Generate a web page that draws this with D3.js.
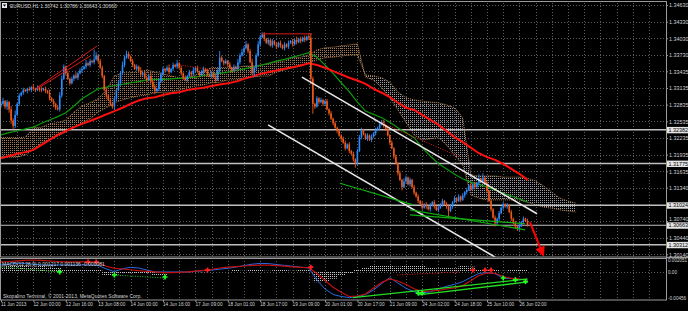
<!DOCTYPE html>
<html><head><meta charset="utf-8">
<script src="https://cdnjs.cloudflare.com/ajax/libs/d3/7.8.5/d3.min.js"></script>
<style>
html,body{margin:0;padding:0;background:#000;}
svg{display:block;}
text{font-family:"Liberation Sans",Arial,sans-serif;}
</style></head><body>
<svg id="c" width="688" height="311"></svg>
<script>
// ---------------- DATA ----------------
// H1 closes, in pips above 1.30000, from 11 Jun 2013 08:00 (bar 0) to 26 Jun 06:00 (bar 260)
const firstOpen = 282;
const closes = [
285,290,280,288,275,255,245,265,285,300,
305,310,308,312,310,315,312,310,314,311,
310,312,308,305,295,290,285,278,275,300,
330,352,340,330,322,330,336,332,340,345,
348,352,358,355,362,360,365,372,362,350,
335,310,300,292,285,280,295,310,322,340,
355,368,375,370,362,355,348,352,345,338,
340,332,328,335,325,315,308,312,325,338,
348,345,350,342,348,355,352,358,350,340,
332,328,335,342,338,345,350,343,337,342,
348,344,338,335,340,333,328,345,368,362,
358,362,356,350,345,352,348,360,372,378,
385,392,380,360,340,350,372,392,405,410,
402,395,400,390,398,392,388,395,390,385,
392,388,395,398,392,400,396,402,398,404,
400,406,404,330,285,280,295,288,292,285,
290,275,268,258,250,242,236,228,222,215,
205,212,200,195,185,178,200,225,238,230,
222,228,220,226,232,238,242,248,252,246,
240,228,215,205,190,178,160,148,135,145,
152,140,148,135,125,118,110,105,98,104,
100,95,102,108,100,94,98,104,110,104,
100,92,100,108,115,110,118,112,120,126,
130,138,132,140,135,142,150,145,152,142,
128,110,95,80,70,78,88,98,104,100,
102,90,78,70,64,60,65,72,78,74,66];
// upper / lower wick length per bar (digit x 2 pips)
const wickUp = "2312132412"+"1211213121"+"2121312123"+"3212121312"+"2131219312"+"2121212132"+"3232121213"+"1212312132"+"2123121312"+"1212131212"+"2121213262"+"1212121323"+"2312312322"+"2121212121"+"2121213121"+"2124212121"+"1212121212"+"2121212221"+"1212121222"+"1212121213"+"2121212121"+"2121212121"+"2121212121"+"2121214141"+"2121212121"+"2121212121"+"2";
const wickDn = "2123333212"+"1212121212"+"2121213212"+"2121212121"+"2121212121"+"2121223212"+"1212121212"+"2121213121"+"1212121212"+"2121212121"+"2121213121"+"2121212121"+"2121232121"+"2121212121"+"2121212121"+"2125921212"+"2121212121"+"2121242121"+"1212121212"+"2121212131"+"2121212121"+"2121212121"+"2612121212"+"2121212121"+"2121312121"+"2121222121"+"1";

// indicator lines sampled every 4 bars (pips above 1.30000)
const redMA = [187,191,195,198,202,211,220,229,236,243,249,254,260,266,272,278,285,291,295,297,301,304,306,310,312,314,317,320,322,325,330,334,339,342,345,348,351,354,358,355,350,344,338,332,327,321,312,305,297,287,278,274,265,256,247,236,225,216,206,196,189,184,177,168,159,148];
const greenMA = [229,233,236,240,243,250,256,262,269,281,294,303,312,315,318,320,323,325,328,329,329,330,331,332,333,336,338,340,342,345,348,351,354,358,362,365,369,373,377,369,355,340,323,307,288,272,266,260,252,242,233,224,206,191,177,168,158,150,144,140,135,130,124,119,114,108];
// Ichimoku Senkou spans (shifted 26 bars), every 4 bars
const spanA = [224,224,224,225,242,243,249,251,256,270,281,287,294,310,335,341,341,342,346,342,339,335,332,332,337,344,350,350,351,350,353,353,355,357,360,362,368,369,373,382,386,387,389,391,393,333,328,314,296,274,252,229,220,222,224,211,193,175,121,115,112,112,112,112,112,108,103,99,97,94,92,90];
const spanB = [189,189,189,193,202,215,220,227,234,243,251,258,270,278,287,292,296,299,301,305,306,306,310,314,317,319,323,324,328,328,332,333,335,335,342,346,350,353,359,364,368,369,371,373,373,337,335,332,324,306,296,292,290,288,287,283,278,260,157,155,155,155,153,153,153,151,146,137,126,115,110,106];

// MACD window (x 1e-4), every 4 bars
const macdHist = [9,10,11,10,9,10,9,8,5,4,5,4,3,-7,-7,-4,-3,-4,-3,-7,-6,-1,1,-1,1,-1,1,0,1,3,2,3,3,2,3,3,2,3,3,-18,-17,-12,-7,-2,3,7,10,11,10,9,10,11,10,7,6,7,6,10,9,4,3,3,2,3,3,3];
const macdBlue = [11.8,13.2,15.0,14.4,13.1,11.8,11.8,11.8,11.8,11.8,11.8,11.8,11.1,4.9,0.3,5.2,7.8,6.6,3.1,-0.3,-0.3,-0.3,-0.3,-0.3,0.9,1.9,3.0,4.5,6.1,8.2,10.8,13.2,14.6,14.3,12.7,11.1,9.6,8.0,6.6,-14.3,-29.9,-39.5,-43.0,-44.9,-43.8,-39.3,-31.7,-20.4,-10.3,-19.5,-28.7,-34.8,-36.4,-35.1,-29.9,-25.2,-21.8,-17.2,-9.9,-3.0,-1.2,-3.5,-10.8,-11.8,-13.1,-14.3];
const macdRed = [17.1,17.9,19.1,20.0,20.5,19.7,18.8,17.9,17.1,17.1,17.1,17.1,16.2,9.6,6.1,4.9,3.5,1.9,0.7,-0.3,-1.4,-1.4,-1.0,-0.3,1.0,2.6,4.4,6.6,8.0,9.0,10.1,11.0,11.5,11.5,10.6,9.7,8.7,7.8,7.0,-3.0,-15.1,-27.0,-35.7,-43.0,-42.1,-38.6,-28.2,-18.4,-12.5,-16.0,-22.1,-29.6,-34.5,-33.4,-32.2,-29.9,-28.2,-24.0,-15.5,-6.4,-2.1,-2.6,-8.2,-11.5,-12.9,-14.3];

// axis labels
const priceTicks = [1.34630,1.34330,1.34030,1.33730,1.33435,1.33135,1.32835,1.32535,1.32235,1.31935,1.31635,1.31340,1.30740,1.30440,1.30140];
const levels = [1.32382,1.31775,1.31024,1.30663,1.30312];
const macdTicks = [0.002051,0,-0.00456];
const macdTickLabels = ["0.002051","0.00","-0.00456"];
const timeBars = [0,16,32,48,64,80,96,112,128,144,160,176,192,208,224,240,256];
const timeLabels = ["11 Jun 2013","12 Jun 00:00","12 Jun 16:00","13 Jun 08:00","14 Jun 00:00","14 Jun 16:00","17 Jun 09:00","18 Jun 01:00","18 Jun 17:00","19 Jun 09:00","20 Jun 01:00","20 Jun 17:00","21 Jun 09:00","24 Jun 02:00","24 Jun 18:00","25 Jun 10:00","26 Jun 02:00"];

// drawn objects: [bar, pips]
const whiteLines = [[[148.6,333],[264.7,87]],[[131.9,247],[244,9]]];
const redLines = [[[17.8,314],[47.4,389]],[[17.8,312],[44,371]],[[128.9,411],[153.6,411]]];
const redDotted = [[[88.4,355],[104.7,346]],[[188.6,250],[226.7,189]]];
const greenLines = [[[202,94],[258.8,58]],[[202,85],[258.8,69]],[[167.4,142],[203.5,103]]];
const arrowLine = [[261.2,72],[267.7,13]];
// MACD drawn objects: [bar, value x1e-4]
const macdGreen = [[[173.8,-45],[260,-12.5]],[[206,-40],[260,-17.7]]];
const macdGreenDot = [[[0,8.4],[29,-0.3]],[[55,-5.6],[81,-10.8]]];
const macdRedDot = [[[195.6,-5.6],[226.7,-0.3]]];
const upMarks = [[29,-0.3],[56,-5.6],[81,-9],[206,-37],[208,-37],[248,-10.8],[254,-14],[259,-17]];
const dnMarks = [[43,17],[47,17],[102,3],[153,8],[233,3],[239,3],[242,3]];

// ---------------- DRAW ----------------
const svg = d3.select("#c");
const xs = d3.scaleLinear().domain([0,328.4]).range([1,666]);
const yP = d3.scaleLinear().domain([1.30140,1.34630]).range([254.3,5]);
const yM = d3.scaleLinear().domain([-0.00456,0.002051]).range([298,260]);
const P = v => 1.3 + v/10000;
const M = v => v/10000;
const textCol = "#d4d4d4", gridCol = "#5c5c5c";

const defs = svg.append("defs");
function dotPat(id,color){
  const p = defs.append("pattern").attr("id",id).attr("width",2).attr("height",2).attr("patternUnits","userSpaceOnUse");
  p.append("rect").attr("width",1).attr("height",1).attr("fill",color);
}
dotPat("bull","#a27a55"); dotPat("bear","#a09ca6"); dotPat("hist","#c4c4c4");
defs.append("clipPath").attr("id","cm").append("rect").attr("x",0).attr("y",2).attr("width",666).attr("height",255);
defs.append("clipPath").attr("id","cd").append("rect").attr("x",0).attr("y",258).attr("width",666).attr("height",42);
defs.append("marker").attr("id","ah").attr("viewBox","0 0 10 10").attr("refX",8).attr("refY",5)
  .attr("markerWidth",5).attr("markerHeight",5).attr("orient","auto")
  .append("path").attr("d","M0,0 L10,5 L0,10 z").attr("fill","#ff0000");

svg.append("rect").attr("width",688).attr("height",311).attr("fill","#000");

// grid
const grid = svg.append("g").attr("stroke",gridCol).attr("stroke-width",1).attr("stroke-dasharray","1,2");
d3.range(8,329,8).forEach(i=>{
  const x = Math.round(xs(i))+0.5;
  if(x<665) grid.append("line").attr("x1",x).attr("x2",x).attr("y1",3).attr("y2",300);
});
priceTicks.forEach(p=>{ const y=Math.round(yP(p))+0.5; grid.append("line").attr("x1",0).attr("x2",666).attr("y1",y).attr("y2",y);});
grid.append("line").attr("x1",0).attr("x2",666).attr("y1",Math.round(yM(0))+0.5).attr("y2",Math.round(yM(0))+0.5);

// ---- main window ----
const gm = svg.append("g").attr("clip-path","url(#cm)");

// cloud
const cloud = spanA.map((a,k)=>({i:k*4,a:a,b:spanB[k]}));
for(let k=0;k<cloud.length-1;k++){
  const seg=[cloud[k],cloud[k+1]];
  const bull = cloud[k].a>=cloud[k].b;
  gm.append("path").attr("d",d3.area().x(d=>xs(d.i)).y0(d=>yP(P(d.b))).y1(d=>yP(P(d.a)))(seg))
    .attr("fill",bull?"url(#bull)":"url(#bear)");
}
gm.append("path").attr("d",d3.line().x(d=>xs(d.i)).y(d=>yP(P(d.a)))(cloud)).attr("fill","none").attr("stroke","#b08458").attr("stroke-width",1).attr("stroke-dasharray","1,1");
gm.append("path").attr("d",d3.line().x(d=>xs(d.i)).y(d=>yP(P(d.b)))(cloud)).attr("fill","none").attr("stroke","#b08458").attr("stroke-width",1).attr("stroke-dasharray","1,1");

// horizontal levels
levels.forEach((p,j)=>{
  gm.append("line").attr("x1",0).attr("x2",666).attr("y1",yP(p)).attr("y2",yP(p))
    .attr("stroke","#c0c0c0").attr("stroke-width",j===3?1:1.5);
});

// moving averages
const maLine = arr => d3.line().x((d,k)=>xs(k*4)).y(d=>yP(P(d)))(arr);
gm.append("path").attr("d",maLine(greenMA)).attr("fill","none").attr("stroke","#0c9a0c").attr("stroke-width",1.2);
gm.append("path").attr("d",maLine(redMA)).attr("fill","none").attr("stroke","#ff1010").attr("stroke-width",2);

// candles
const bars = closes.map((c,i)=>{
  const o = i===0?firstOpen:closes[i-1];
  return {i,o,c,h:Math.max(o,c)+2*(+wickUp[i]),l:Math.min(o,c)-2*(+wickDn[i])};
});
const cg = gm.append("g");
bars.forEach(b=>{
  const col = b.c>=b.o ? "#2a8cff" : "#f0581a";
  const x = xs(b.i);
  cg.append("line").attr("x1",x).attr("x2",x).attr("y1",yP(P(b.h))).attr("y2",yP(P(b.l))).attr("stroke",col).attr("stroke-width",0.9);
  const y1 = yP(P(Math.max(b.o,b.c))), y2 = yP(P(Math.min(b.o,b.c)));
  cg.append("rect").attr("x",x-0.8).attr("width",1.6).attr("y",y1).attr("height",Math.max(0.8,y2-y1)).attr("fill",col);
});

// drawn trend lines
const seg = (g,s,col,w,dash)=>g.append("line").attr("x1",xs(s[0][0])).attr("y1",yP(P(s[0][1]))).attr("x2",xs(s[1][0])).attr("y2",yP(P(s[1][1])))
  .attr("stroke",col).attr("stroke-width",w).attr("stroke-dasharray",dash||null);
whiteLines.forEach(s=>seg(gm,s,"#e8e8e8",1.6));
redLines.forEach(s=>seg(gm,s,"#e01818",1));
redDotted.forEach(s=>seg(gm,s,"#e01818",1,"1,1.5"));
greenLines.forEach(s=>seg(gm,s,"#10b010",1.2));
seg(gm,arrowLine,"#ff0000",2).attr("marker-end","url(#ah)");

// ---- MACD window ----
const gd = svg.append("g").attr("clip-path","url(#cd)");
const mIdx = (d,k)=>xs(k*4);
gd.append("path").attr("d",d3.area().x(mIdx).y0(yM(0)).y1(d=>yM(M(d))).curve(d3.curveStep)(macdHist)).attr("fill","url(#hist)");
const mLine = arr => d3.line().x(mIdx).y(d=>yM(M(d)))(arr);
gd.append("path").attr("d",mLine(macdBlue)).attr("fill","none").attr("stroke","#2a6ae0").attr("stroke-width",1);
gd.append("path").attr("d",mLine(macdRed)).attr("fill","none").attr("stroke","#c01010").attr("stroke-width",1.2);
const mseg = (s,col,w,dash)=>gd.append("line").attr("x1",xs(s[0][0])).attr("y1",yM(M(s[0][1]))).attr("x2",xs(s[1][0])).attr("y2",yM(M(s[1][1])))
  .attr("stroke",col).attr("stroke-width",w).attr("stroke-dasharray",dash||null);
macdGreen.forEach(s=>mseg(s,"#22dd22",1.3));
macdGreenDot.forEach(s=>mseg(s,"#22cc22",1,"1,1.5"));
macdRedDot.forEach(s=>mseg(s,"#e01818",1,"1,1.5"));
const sym = d3.symbol().type(d3.symbolCross).size(14);
upMarks.forEach(m=>gd.append("path").attr("d",sym()).attr("transform",`translate(${xs(m[0])},${yM(M(m[1]))})`).attr("fill","#22ff22"));
dnMarks.forEach(m=>gd.append("path").attr("d",sym()).attr("transform",`translate(${xs(m[0])},${yM(M(m[1]))})`).attr("fill","#ff2020"));

// ---- frames ----
const fr = svg.append("g").attr("stroke","#9a9a9a").attr("fill","none");
fr.append("rect").attr("x",0.5).attr("y",1.5).attr("width",666).attr("height",255.5);
fr.append("rect").attr("x",0.5).attr("y",258.5).attr("width",666).attr("height",41.5);
fr.append("line").attr("x1",666).attr("x2",688).attr("y1",257.5).attr("y2",257.5).attr("stroke-width",1.5);

// ---- axes ----
const fs = "5.4px", fsT = "4.7px", fsM = "4.6px", fsL = "5px";
const pax = svg.append("g").attr("transform","translate(666,0)")
  .call(d3.axisRight(yP).tickValues(priceTicks).tickSize(2).tickPadding(1).tickFormat(d3.format(".5f")));
pax.select(".domain").remove();
pax.selectAll("line").attr("stroke","#9a9a9a");
pax.selectAll("text").attr("fill",textCol).style("font-size",fs);
pax.selectAll(".tick").filter(d=>d===1.30740).select("text").attr("dy","-0.05em");

levels.forEach(p=>{
  const y = yP(p);
  svg.append("rect").attr("x",667).attr("y",y-2.9).attr("width",21).attr("height",6.4).attr("fill","#e4e4e4");
  svg.append("text").attr("x",668.5).attr("y",y+2).text(p.toFixed(5)).attr("fill","#000").style("font-size",fs);
});

const max = svg.append("g").attr("transform","translate(666,0)")
  .call(d3.axisRight(yM).tickValues(macdTicks).tickSize(1).tickPadding(1).tickFormat((d,i)=>macdTickLabels[i]));
max.select(".domain").remove();
max.selectAll("line").attr("stroke","#9a9a9a");
max.selectAll("text").attr("fill",textCol).style("font-size",fsM);

const tax = svg.append("g").attr("transform","translate(0,300)")
  .call(d3.axisBottom(xs).tickValues(timeBars).tickSize(2).tickPadding(1).tickFormat((d,i)=>timeLabels[i]));
tax.select(".domain").remove();
tax.selectAll("line").attr("stroke","#9a9a9a");
tax.selectAll("text").attr("fill",textCol).style("font-size",fsT).attr("text-anchor","start").attr("dx",-0.5);

// ---- texts ----
svg.append("rect").attr("x",2).attr("y",3).attr("width",5).attr("height",5).attr("fill","#e8e8e8");
svg.append("path").attr("d","M3,4.5 L6,4.5 L4.5,6.8 z").attr("fill","#000");
svg.append("text").attr("x",10).attr("y",8).text("EURUSD,H1  1.30742 1.30786 1.30643 1.30663").attr("fill",textCol).style("font-size",fsL);
svg.append("text").attr("x",2).attr("y",265.5).text("MACD(12,26,9) 0.001217 0.001136 -0.000081").attr("fill",textCol).style("font-size",fsL);
svg.append("text").attr("x",3).attr("y",298).text("Skopalino Terminal, © 2001-2013, MetaQuotes Software Corp.").attr("fill",textCol).style("font-size",fsL);
</script>
</body></html>
